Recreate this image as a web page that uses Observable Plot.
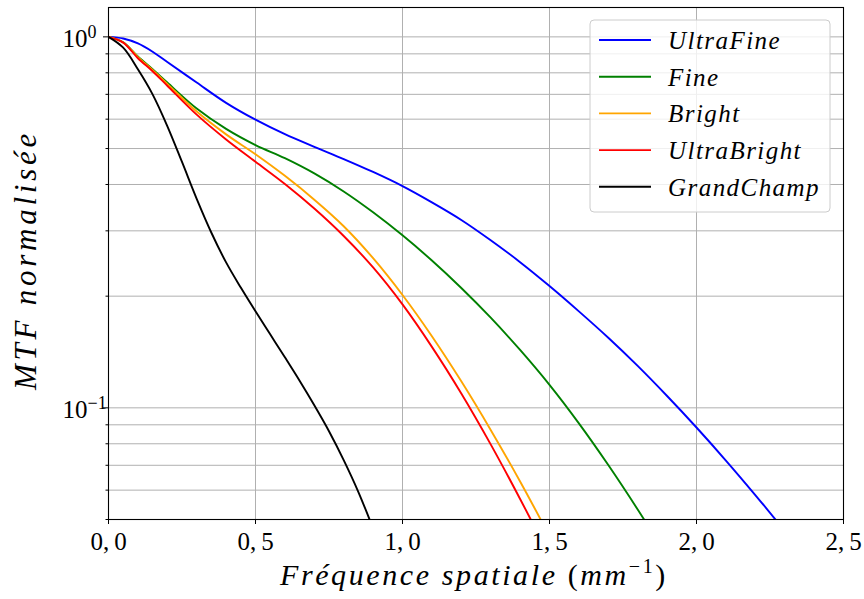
<!DOCTYPE html>
<html>
<head>
<meta charset="utf-8">
<script src="https://cdn.jsdelivr.net/npm/d3@7"></script>
<script src="https://cdn.jsdelivr.net/npm/@observablehq/plot@0.6"></script>
<style>
  html, body { margin: 0; padding: 0; background: white; }
  #chart { width: 864px; height: 599px; }
</style>
</head>
<body>
<div id="chart"></div>
<script>
// ---- data ----
const seriesNames = ["UltraFine", "Fine", "Bright", "UltraBright", "GrandChamp"];
const seriesColors = ["blue", "green", "orange", "red", "black"];

const freq = [0, 0.05, 0.1, 0.15, 0.2, 0.3, 0.4, 0.5, 0.6, 0.7, 0.8, 0.9, 1.0, 1.1, 1.2, 1.3, 1.4, 1.5, 1.6, 1.7, 1.8, 1.9, 2.0, 2.1, 2.2, 2.3];
const ultraFine = [1.0, 0.99, 0.96, 0.912, 0.856, 0.753, 0.664, 0.598, 0.5466, 0.5054, 0.4685, 0.4323, 0.396, 0.358, 0.321, 0.283, 0.247, 0.213, 0.182, 0.1545, 0.1297, 0.1076, 0.0885, 0.0721, 0.0582, 0.0466];
const fine = [1.0, 0.967, 0.885, 0.818, 0.753, 0.641, 0.565, 0.511, 0.471, 0.4285, 0.383, 0.3365, 0.2917, 0.2495, 0.2104, 0.175, 0.1432, 0.1153, 0.0908, 0.0701, 0.0532, 0.0398];
const bright = [1.0, 0.966, 0.882, 0.814, 0.747, 0.629, 0.546, 0.4825, 0.422, 0.364, 0.3087, 0.2532, 0.2015, 0.156, 0.1179, 0.0872, 0.0633, 0.0451];
const ultraBright = [1.0, 0.965, 0.876, 0.808, 0.7385, 0.617, 0.529, 0.4607, 0.4013, 0.3446, 0.2906, 0.239, 0.190, 0.146, 0.1093, 0.0797, 0.0568, 0.0398];

const freqGC = [0, 0.05, 0.1, 0.15, 0.2, 0.25, 0.3, 0.35, 0.4, 0.45, 0.5, 0.55, 0.6, 0.65, 0.7, 0.75, 0.8, 0.85, 0.9];
const grandChamp = [1.0, 0.935, 0.818, 0.70, 0.575, 0.46, 0.366, 0.2965, 0.2466, 0.2109, 0.182, 0.1578, 0.1368, 0.1183, 0.1016, 0.0865, 0.0723, 0.0593, 0.0473];

const xTicks = [0, 0.5, 1.0, 1.5, 2.0, 2.5];
const yMajor = [1, 0.1];
const yMajorExp = ["0", "\u22121"];
const yMinor = [0.05, 0.06, 0.07, 0.08, 0.09, 0.2, 0.3, 0.4, 0.5, 0.6, 0.7, 0.8, 0.9];

const xLabel = ["Fr\u00e9quence spatiale ", "(", "mm", "\u22121", ")"];
const yLabel = "MTF normalis\u00e9e";

// ---- build table ----
const rows = [];
const addSeries = (name, xs, vs) => vs.forEach((v, i) => rows.push({series: name, f: xs[i], v}));
addSeries("UltraFine", freq, ultraFine);
addSeries("Fine", freq, fine);
addSeries("Bright", freq, bright);
addSeries("UltraBright", freq, ultraBright);
addSeries("GrandChamp", freqGC, grandChamp);

const yLab = yMajor.map((v, i) => ({v, e: yMajorExp[i]}));
const FONT = "'Liberation Serif', 'DejaVu Serif', serif";

const plot = Plot.plot({
  width: 864,
  height: 599,
  marginLeft: 108,
  marginRight: 21,
  marginTop: 7,
  marginBottom: 80,
  style: {fontFamily: FONT, fontSize: "25px", background: "white", color: "black"},
  x: {domain: [0, 2.5]},
  y: {type: "log", domain: [0.05, 1.2]},
  color: {domain: seriesNames, range: seriesColors},
  marks: [
    Plot.gridY(yMinor.concat(yMajor), {stroke: "#b0b0b0", strokeOpacity: 1, strokeWidth: 1}),
    Plot.gridX(xTicks, {stroke: "#b0b0b0", strokeOpacity: 1, strokeWidth: 1}),
    Plot.line(rows, {x: "f", y: "v", z: "series", stroke: "series", strokeWidth: 1.9, curve: "catmull-rom", clip: true}),
    Plot.axisX(xTicks, {tickSize: 5, tickPadding: 8, fontSize: 25, label: null,
      tickFormat: d => d.toFixed(1).replace(".", ",\u2009")}),
    Plot.axisY(yMajor, {tickSize: 5, tickFormat: () => "", label: null}),
    Plot.axisY(yMinor, {tickSize: 2.5, tickFormat: () => "", label: null}),
    Plot.text(yLab, {y: "v", frameAnchor: "left", textAnchor: "end", dx: -21, dy: 2, text: () => "10", fontSize: 25}),
    Plot.text(yLab, {y: "v", frameAnchor: "left", textAnchor: "start", dx: -21, dy: -5, text: "e", fontSize: 18}),
    Plot.frame({stroke: "black", strokeWidth: 1.1})
  ]
});

document.getElementById("chart").appendChild(plot);
const svg = d3.select(plot);

function fitWidth(textSel, target) {
  const node = textSel.node();
  const n = node.textContent.length;
  const w = node.getComputedTextLength();
  const ls = (target - w) / n;
  textSel.attr("letter-spacing", ls.toFixed(2) + "px");
}

// x label
const xl = svg.append("text")
  .attr("x", 280).attr("y", 585).attr("text-anchor", "start")
  .attr("font-family", FONT).attr("font-size", 30).attr("fill", "black");
xl.append("tspan").attr("font-style", "italic").text(xLabel[0]);
xl.append("tspan").text(xLabel[1]);
xl.append("tspan").attr("font-style", "italic").text(xLabel[2]);
xl.append("tspan").attr("font-size", 20).attr("dy", -12).text(xLabel[3]);
xl.append("tspan").attr("dy", 12).text(xLabel[4]);
fitWidth(xl, 388);

// y label
const yl = svg.append("text")
  .attr("transform", "translate(36,390) rotate(-90)").attr("text-anchor", "start")
  .attr("font-family", FONT).attr("font-size", 31).attr("font-style", "italic").attr("fill", "black")
  .text(yLabel);
fitWidth(yl, 260);

// legend
const lg = svg.append("g");
lg.append("rect").attr("x", 590).attr("y", 20).attr("width", 240).attr("height", 192)
  .attr("rx", 4).attr("fill", "white").attr("fill-opacity", 0.8).attr("stroke", "#cccccc").attr("stroke-width", 1);
seriesNames.forEach((name, i) => {
  const y = 40 + i * 36.7;
  lg.append("line").attr("x1", 599).attr("x2", 651).attr("y1", y).attr("y2", y)
    .attr("stroke", seriesColors[i]).attr("stroke-width", 1.9);
  lg.append("text").attr("x", 668).attr("y", y + 9).attr("text-anchor", "start")
    .attr("font-family", FONT).attr("font-size", 25).attr("font-style", "italic")
    .attr("letter-spacing", "1.45px").attr("fill", "black").text(name);
});
</script>
</body>
</html>
